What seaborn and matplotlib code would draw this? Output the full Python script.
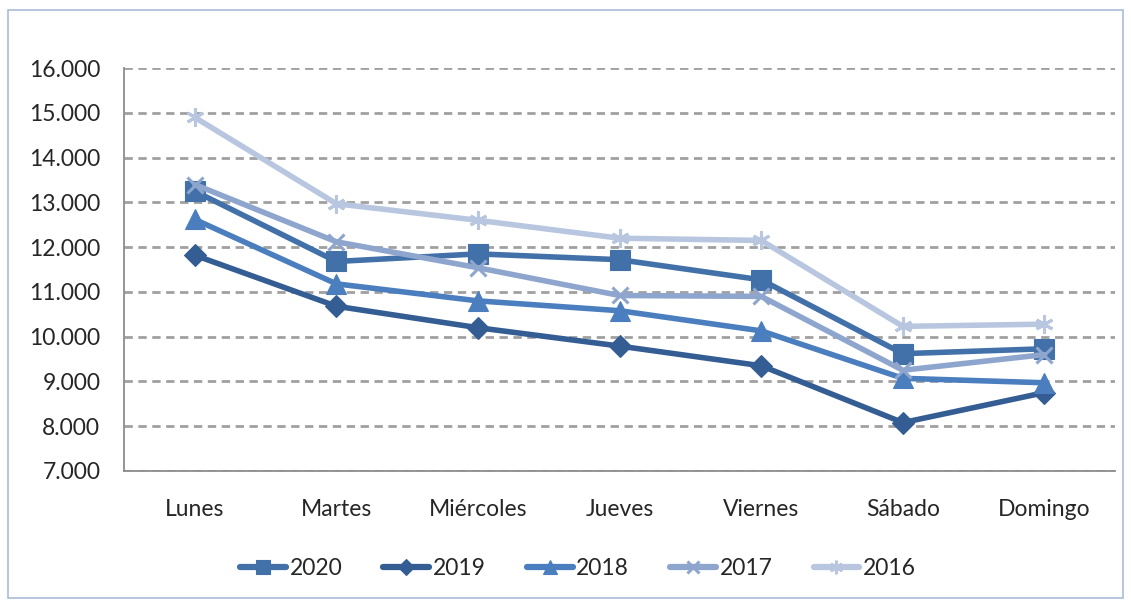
import seaborn as sns
import matplotlib.pyplot as plt
import pandas as pd
from matplotlib.ticker import FuncFormatter, FixedLocator
from matplotlib.patches import Rectangle

# Datos
dias = ["Lunes", "Martes", "Miércoles", "Jueves", "Viernes", "Sábado", "Domingo"]
v2020 = [13250, 11680, 11850, 11720, 11270, 9620, 9730]
v2019 = [11820, 10680, 10200, 9790, 9350, 8080, 8750]
v2018 = [12620, 11180, 10800, 10580, 10130, 9070, 8970]
v2017 = [13400, 12120, 11540, 10920, 10900, 9250, 9600]
v2016 = [14900, 12970, 12600, 12200, 12150, 10230, 10280]
anios = ["2020", "2019", "2018", "2017", "2016"]

colores = {"2020": "#4270A8", "2019": "#335D93", "2018": "#4A7EBE",
           "2017": "#8EA6CE", "2016": "#B8C6E0"}
marcadores = {"2020": "s", "2019": "D", "2018": "^", "2017": "x", "2016": (6, 2, 0)}
tamanos = {"2020": 14, "2019": 11, "2018": 14, "2017": 12, "2016": 13}

df = pd.DataFrame({"dia": dias, "2020": v2020, "2019": v2019, "2018": v2018,
                   "2017": v2017, "2016": v2016})

sns.set_style("white")
plt.rcParams["font.family"] = ["Lato", "DejaVu Sans"]
fs = 16.5

fig = plt.figure(figsize=(11.31, 6.03), dpi=100)
ax = fig.add_axes([0.1096, 0.219, 0.8765, 0.668])

for a in anios:
    c = colores[a]
    sns.lineplot(data=df, x="dia", y=a, color=c, marker=marcadores[a],
                 markersize=tamanos[a], markeredgecolor=c, markerfacecolor=c,
                 markeredgewidth=2.2 if a in ("2017", "2016") else 0.8,
                 linewidth=4.0, sort=False, label=a, ax=ax)

ax.set_xlim(-0.5, 6.5)
ax.set_ylim(7000, 16000)
ax.set_yticks(range(7000, 16001, 1000))
ax.yaxis.set_major_formatter(FuncFormatter(lambda v, p: f"{v/1000:.3f}"))
ax.yaxis.grid(True, linestyle=(0, (3, 2)), color="#A0A0A0", linewidth=2.0)
ax.set_axisbelow(True)

ax.xaxis.set_minor_locator(FixedLocator([i - 0.5 for i in range(8)]))
ax.tick_params(axis="x", which="major", length=0, pad=20, labelsize=fs)
ax.tick_params(axis="x", which="minor", length=7, width=1.3, color="#8C8C8C", direction="out")
ax.tick_params(axis="y", length=7, width=1.3, color="#8C8C8C", direction="out", labelsize=fs, pad=10)
ax.set_xlabel("")
ax.set_ylabel("")

for lado in ["top", "right"]:
    ax.spines[lado].set_visible(False)
for lado in ["left", "bottom"]:
    ax.spines[lado].set_color("#8C8C8C")
    ax.spines[lado].set_linewidth(1.3)

ax.legend(loc="upper center", bbox_to_anchor=(0.458, -0.165), ncol=5,
          frameon=False, fontsize=fs, handlelength=2.0,
          columnspacing=1.8, handletextpad=0.15)
for h in ax.get_legend().legend_handles:
    h.set_linewidth(4.5)
    h.set_markersize(h.get_markersize() * 0.75)

fig.patches.append(Rectangle((0.007, 0.008), 0.986, 0.975, transform=fig.transFigure,
                             fill=False, edgecolor="#A9BCD8", linewidth=1.2))

plt.savefig("out.png", dpi=100)
